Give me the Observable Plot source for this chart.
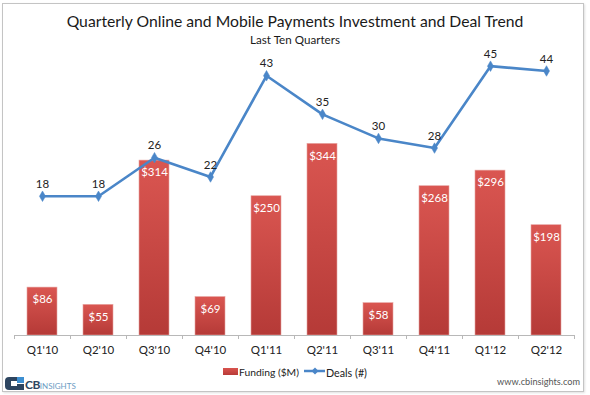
<!DOCTYPE html>
<html>
<head>
<meta charset="utf-8">
<script src="https://cdn.jsdelivr.net/npm/d3@7"></script>
<script src="https://cdn.jsdelivr.net/npm/@observablehq/plot@0.6"></script>
<style>
  html, body { margin:0; padding:0; background:#fff; }
  #root { position:relative; width:590px; height:395px; overflow:hidden; font-family: Lato, "Open Sans", sans-serif; }
  #frame { position:absolute; left:2px; top:3px; width:580px; height:387px; border:1px solid #c4c4c4; box-shadow: 1px 1px 2px rgba(0,0,0,0.12); }
  .abs { position:absolute; white-space:nowrap; }
  #title { top:11px; left:0; width:590px; text-align:center; color:#1a1a1a; font-size:18px; }
  #subtitle { top:33px; left:0; width:590px; text-align:center; color:#1a1a1a; font-size:12px; }
  #chart { position:absolute; left:0; top:46px; }
  .leg { font-size:11px; color:#222; top:366px; }
  #url { font-size:11px; color:#555; right:10px; top:376px; }
</style>
</head>
<body>
<div id="root">
  <div id="frame"></div>
  <div id="title" class="abs"><span>Quarterly Online and Mobile Payments Investment and Deal Trend</span></div>
  <div id="subtitle" class="abs"><span>Last Ten Quarters</span></div>
  <div id="chart"></div>
  <!-- legend -->
  <div class="abs" style="left:223px;top:368px;width:15px;height:7px;background:linear-gradient(#d9534e,#b83b38);"></div>
  <div id="legF" class="abs leg" style="left:239px;"><span>Funding ($M)</span></div>
  <svg class="abs" style="left:303px;top:366px;" width="23" height="10">
    <line x1="1" y1="5" x2="22" y2="5" stroke="#4a86c8" stroke-width="2.5"/>
    <path d="M12,1.5 L15.5,5 L12,8.5 L8.5,5 Z" fill="#4a86c8"/>
  </svg>
  <div id="legD" class="abs leg" style="left:326px;"><span>Deals (#)</span></div>
  <!-- logo -->
  <div class="abs" style="left:5px;top:377px;width:14px;height:13px;background:#2d4560;border-radius:4px 0 0 4px;"></div>
  <div class="abs" style="left:11px;top:381px;width:8px;height:5px;background:#fff;"></div>
  <div class="abs" style="left:17px;top:377px;width:7px;height:6px;background:#3d8fd1;"></div>
  <div class="abs" style="left:17px;top:384px;width:7px;height:6px;background:#2d4560;"></div>
  <div class="abs" style="left:25px;top:377px;font-size:12px;font-weight:bold;color:#2d4560;letter-spacing:-0.5px;">CB<span style="font-size:8px;font-weight:normal;color:#6d9cc4;letter-spacing:0;">INSIGHTS</span></div>
  <div id="url" class="abs"><span>www.cbinsights.com</span></div>
</div>
<script>
const categories = ["Q1'10","Q2'10","Q3'10","Q4'10","Q1'11","Q2'11","Q3'11","Q4'11","Q1'12","Q2'12"];
const funding = [86, 55, 314, 69, 250, 344, 58, 268, 296, 198];
const deals = [18, 18, 26, 22, 43, 35, 30, 28, 45, 44];

const rows = categories.map((c, i) => ({c, f: funding[i], d: deals[i]}));
// secondary (deals) axis mapped onto the funding axis
const dealScale = d3.scaleLinear().domain([-10.9, 46.9]).range([0, 500]);

const ns = "http://www.w3.org/2000/svg";
function gradientDefs() {
  const defs = document.createElementNS(ns, "defs");
  const g = document.createElementNS(ns, "linearGradient");
  g.setAttribute("id", "barGrad");
  g.setAttribute("x1", "0"); g.setAttribute("y1", "0");
  g.setAttribute("x2", "0"); g.setAttribute("y2", "1");
  [["0%", "#da5651"], ["100%", "#b53a37"]].forEach(([o, c]) => {
    const s = document.createElementNS(ns, "stop");
    s.setAttribute("offset", o); s.setAttribute("stop-color", c);
    g.appendChild(s);
  });
  defs.appendChild(g);
  return defs;
}

const lineColor = "#4a86c8";
const chart = Plot.plot({
  width: 590,
  height: 314,
  marginTop: 10.5,
  marginBottom: 25,
  marginLeft: 14,
  marginRight: 16,
  style: {fontFamily: "Lato, 'Open Sans', sans-serif", fontSize: "11.5px", background: "transparent", overflow: "visible"},
  x: {domain: categories, paddingInner: 0.464, paddingOuter: 0.232},
  y: {domain: [0, 500], axis: null},
  marks: [
    gradientDefs,
    Plot.barY(rows, {x: "c", y: "f", fill: "url(#barGrad)", stroke: "#e6a3a0", strokeWidth: 0.6}),
    Plot.ruleY([0], {stroke: "#b8b8b8", strokeWidth: 1}),
    Plot.ruleX(categories, {x: d => d, y1: 0, y2: 0, insetBottom: -4, dx: -28, stroke: "#b8b8b8"}),
    Plot.ruleX([categories[categories.length - 1]], {x: d => d, y1: 0, y2: 0, insetBottom: -4, dx: 28, stroke: "#b8b8b8"}),
    Plot.axisX({tickSize: 0, tickPadding: 10, fontSize: 11.5, fill: "#222", label: null}),
    Plot.text(rows, {x: "c", y: "f", text: r => "$" + r.f, dy: 12, fill: "#fff", fontSize: 11.5, lineAnchor: "middle"}),
    Plot.line(rows, {x: "c", y: r => dealScale(r.d), stroke: lineColor, strokeWidth: 2.6}),
    Plot.dot(rows, {x: "c", y: r => dealScale(r.d), symbol: "diamond", r: 3.2, fill: lineColor, stroke: lineColor, strokeWidth: 0.5}),
    Plot.text(rows, {x: "c", y: r => dealScale(r.d), text: r => String(r.d), dy: -12, fill: "#222", fontSize: 11.5, lineAnchor: "middle"})
  ]
});
document.getElementById("chart").appendChild(chart);

// fit texts to the measured widths of the reference
function fit(id, target) {
  const el = document.getElementById(id);
  const span = el.querySelector("span");
  const w = span.getBoundingClientRect().width;
  const fs = parseFloat(getComputedStyle(el).fontSize);
  el.style.fontSize = (fs * target / w).toFixed(2) + "px";
}
fit("title", 457);
fit("subtitle", 90);
fit("legF", 60);
fit("legD", 41);
fit("url", 83);
</script>
</body>
</html>
